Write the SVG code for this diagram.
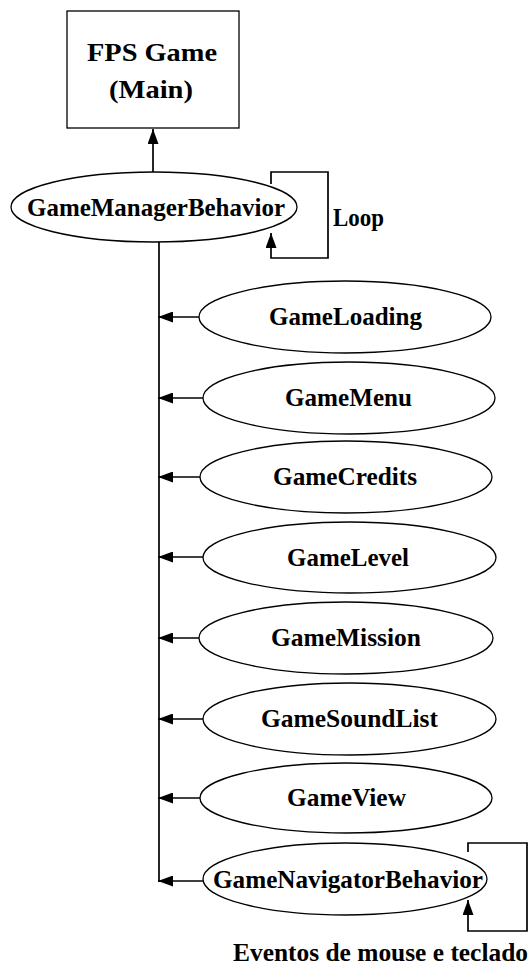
<svg xmlns="http://www.w3.org/2000/svg" width="530" height="966" viewBox="0 0 530 966">
<defs>
<style>
.shape{fill:#fff;stroke:#000;stroke-width:1.3}
.lbl{font-family:"Liberation Serif","Times New Roman",serif;font-weight:bold;font-size:25px;fill:#000}
.edge{fill:none;stroke:#000;stroke-width:1.7}
</style>
<marker id="ahBig" viewBox="0 0 15 11" refX="15" refY="5.5" markerWidth="15" markerHeight="11" markerUnits="userSpaceOnUse" orient="auto">
<path d="M0,0 L15,5.5 L0,11 Z" fill="#000"/>
</marker>
</defs>
<rect width="530" height="966" fill="#fff"/>
<g id="connectors">
<path class="edge" d="M153,172 V129" marker-end="url(#ahBig)"/>
<path class="edge" d="M271,184 V172 H328 V258 H271 V233" marker-end="url(#ahBig)"/>
<path class="edge" d="M159,242 V882"/>
<path class="edge" d="M199,317 H158" marker-end="url(#ahBig)"/>
<path class="edge" d="M203,398 H158" marker-end="url(#ahBig)"/>
<path class="edge" d="M200,477 H158" marker-end="url(#ahBig)"/>
<path class="edge" d="M203,557 H158" marker-end="url(#ahBig)"/>
<path class="edge" d="M199,638 H158" marker-end="url(#ahBig)"/>
<path class="edge" d="M203,719 H158" marker-end="url(#ahBig)"/>
<path class="edge" d="M200,798 H158" marker-end="url(#ahBig)"/>
<path class="edge" d="M203,881 H158" marker-end="url(#ahBig)"/>
<path class="edge" d="M468,852 V843 H527 V931 H468 V900" marker-end="url(#ahBig)"/>
</g>
<g id="fpsgame">
<rect class="shape" x="67" y="11" width="172" height="117"/>
<text class="lbl" x="152" y="61" text-anchor="middle" font-size="27" textLength="130" lengthAdjust="spacingAndGlyphs">FPS Game</text>
<text class="lbl" x="151" y="98" text-anchor="middle" font-size="27" textLength="84" lengthAdjust="spacingAndGlyphs">(Main)</text>
</g>
<g id="gamemanagerbehavior">
<ellipse class="shape" cx="154" cy="207" rx="143" ry="35"/>
<text class="lbl" x="156" y="216" text-anchor="middle" textLength="258" lengthAdjust="spacingAndGlyphs">GameManagerBehavior</text>
</g>
<text id="loop-label" class="lbl" x="333" y="226" textLength="51" lengthAdjust="spacingAndGlyphs">Loop</text>
<g id="gameloading">
<ellipse class="shape" cx="345" cy="317" rx="146" ry="36"/>
<text class="lbl" x="345.5" y="325" text-anchor="middle" textLength="153" lengthAdjust="spacingAndGlyphs">GameLoading</text>
</g>
<g id="gamemenu">
<ellipse class="shape" cx="349" cy="398" rx="146" ry="36"/>
<text class="lbl" x="348.5" y="406" text-anchor="middle" textLength="127" lengthAdjust="spacingAndGlyphs">GameMenu</text>
</g>
<g id="gamecredits">
<ellipse class="shape" cx="346" cy="477" rx="146" ry="36"/>
<text class="lbl" x="345" y="485" text-anchor="middle" textLength="144" lengthAdjust="spacingAndGlyphs">GameCredits</text>
</g>
<g id="gamelevel">
<ellipse class="shape" cx="349.5" cy="557.5" rx="146.5" ry="35.5"/>
<text class="lbl" x="348" y="566" text-anchor="middle" textLength="122" lengthAdjust="spacingAndGlyphs">GameLevel</text>
</g>
<g id="gamemission">
<ellipse class="shape" cx="346" cy="638" rx="147" ry="36"/>
<text class="lbl" x="346" y="646" text-anchor="middle" textLength="150" lengthAdjust="spacingAndGlyphs">GameMission</text>
</g>
<g id="gamesoundlist">
<ellipse class="shape" cx="349.5" cy="719" rx="146.5" ry="36"/>
<text class="lbl" x="349.5" y="727" text-anchor="middle" textLength="177" lengthAdjust="spacingAndGlyphs">GameSoundList</text>
</g>
<g id="gameview">
<ellipse class="shape" cx="346" cy="798" rx="146" ry="35"/>
<text class="lbl" x="346.5" y="806" text-anchor="middle" textLength="119" lengthAdjust="spacingAndGlyphs">GameView</text>
</g>
<g id="gamenavigatorbehavior">
<ellipse class="shape" cx="345" cy="879" rx="142" ry="36"/>
<text class="lbl" x="348" y="888" text-anchor="middle" textLength="270" lengthAdjust="spacingAndGlyphs">GameNavigatorBehavior</text>
</g>
<text id="eventos-label" class="lbl" x="233" y="961" textLength="295" lengthAdjust="spacingAndGlyphs">Eventos de mouse e teclado</text>
</svg>
